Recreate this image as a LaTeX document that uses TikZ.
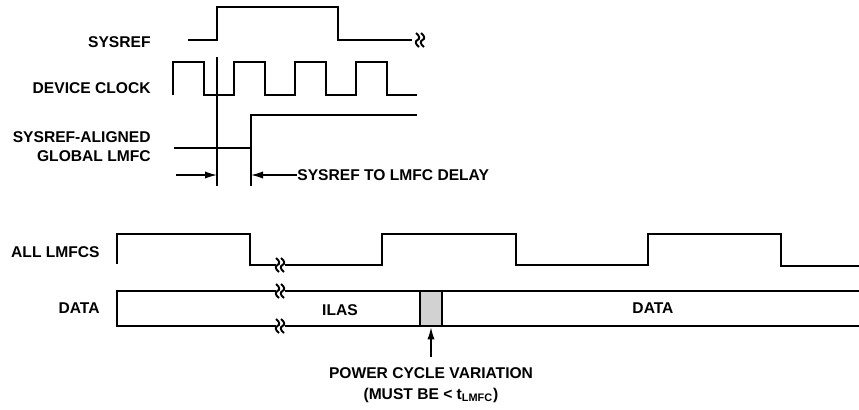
\documentclass[tikz,border=0pt]{standalone}
\usepackage{fontspec}
\setmainfont{Liberation Sans}
\usetikzlibrary{arrows.meta}

\tikzset{
  sig/.style={line width=1.4pt},
  guide/.style={line width=0.6pt},
  arr/.style={line width=0.6pt,-{Latex[length=6pt,width=3.6pt]}},
  lbl/.style={font=\fontsize{7.8}{9.5}\selectfont\bfseries,inner sep=0pt},
  gapbox/.style={draw,sig,fill=gray!35,inner sep=0pt,minimum width=11pt,minimum height=17.5pt},
  brk/.pic={
    \fill[white] (-4.5,-8) rectangle (4.5,8);
    \foreach \d in {-2.5,2.5}
      \draw[line width=1pt] (\d-1.5,-7) .. controls (\d+2.5,-4) and (\d+2.5,-1) .. (\d,0)
        .. controls (\d-2.5,1) and (\d-2.5,4) .. (\d+1.5,7);
  }
}

\begin{document}
\begin{tikzpicture}[x=0.5pt,y=-0.5pt]
\useasboundingbox (0,0) rectangle (859,409);

% top part
\node[lbl,anchor=east] (sysref) at (151,42) {SYSREF};
\node[lbl,anchor=east] (devclk) at (151,88) {DEVICE CLOCK};
\node[lbl,anchor=east,align=right] (glmfc) at (151,146.5) {SYSREF-ALIGNED\\GLOBAL LMFC};

\draw[sig] (188,40) -- (217,40) -- (217,7) -- (338,7) -- (338,40) -- (412,40);
\pic at (420,40) {brk};

\draw[sig] (173,95) \foreach \x in {173,234,295,356} {
  -- (\x,62) -- (\x+31,62) -- (\x+31,95) -- (\x+61,95)};

\draw[sig] (174,148) -- (251,148) -- (251,115) -- (417,115);

\coordinate (v1t) at (217,57);
\coordinate (v1b) at (217,186);
\coordinate (v2t) at (251,148);
\coordinate (v2b) at (251,186);
\draw[guide] (v1t) -- (v1b);
\draw[guide] (v2t) -- (v2b);

\node[lbl,anchor=west] (delay) at (297,175) {SYSREF TO LMFC DELAY};
\coordinate (dl) at (176,175);
\draw[arr] (dl) -- (v1b |- dl);
\draw[arr] (delay.west) -- (v2b |- delay.west);

% bottom part
\node[lbl,anchor=east] (alllmfc) at (100,252) {ALL LMFCS};
\node[lbl,anchor=east] (datalbl) at (100,308) {DATA};

\draw[sig] (117,264) -- (117,234) -- (250,234) -- (250,265) -- (382,265) -- (382,234)
  -- (516,234) -- (516,265) -- (648,265) -- (648,234) -- (781,234) -- (781,266) -- (859,266);
\pic at (280,265) {brk};

\draw[sig] (859,291) -- (117,291) -- (117,326) -- (859,326);
\pic at (280,291) {brk};
\pic at (280,326) {brk};

\node[lbl] (ilas) at (340,310) {ILAS};
\node[lbl] (datatxt) at (653,308) {DATA};
\node[gapbox] (pcgap) at (431,308.5) {};

\node[lbl,align=center,font=\fontsize{7.8}{10.5}\selectfont\bfseries] (pcv) at (431,385)
  {POWER CYCLE VARIATION\\(MUST BE < t\textsubscript{LMFC})};
\coordinate (pctail) at (431,357);
\draw[arr] (pctail) -- (pcgap.south);

\end{tikzpicture}
\end{document}
